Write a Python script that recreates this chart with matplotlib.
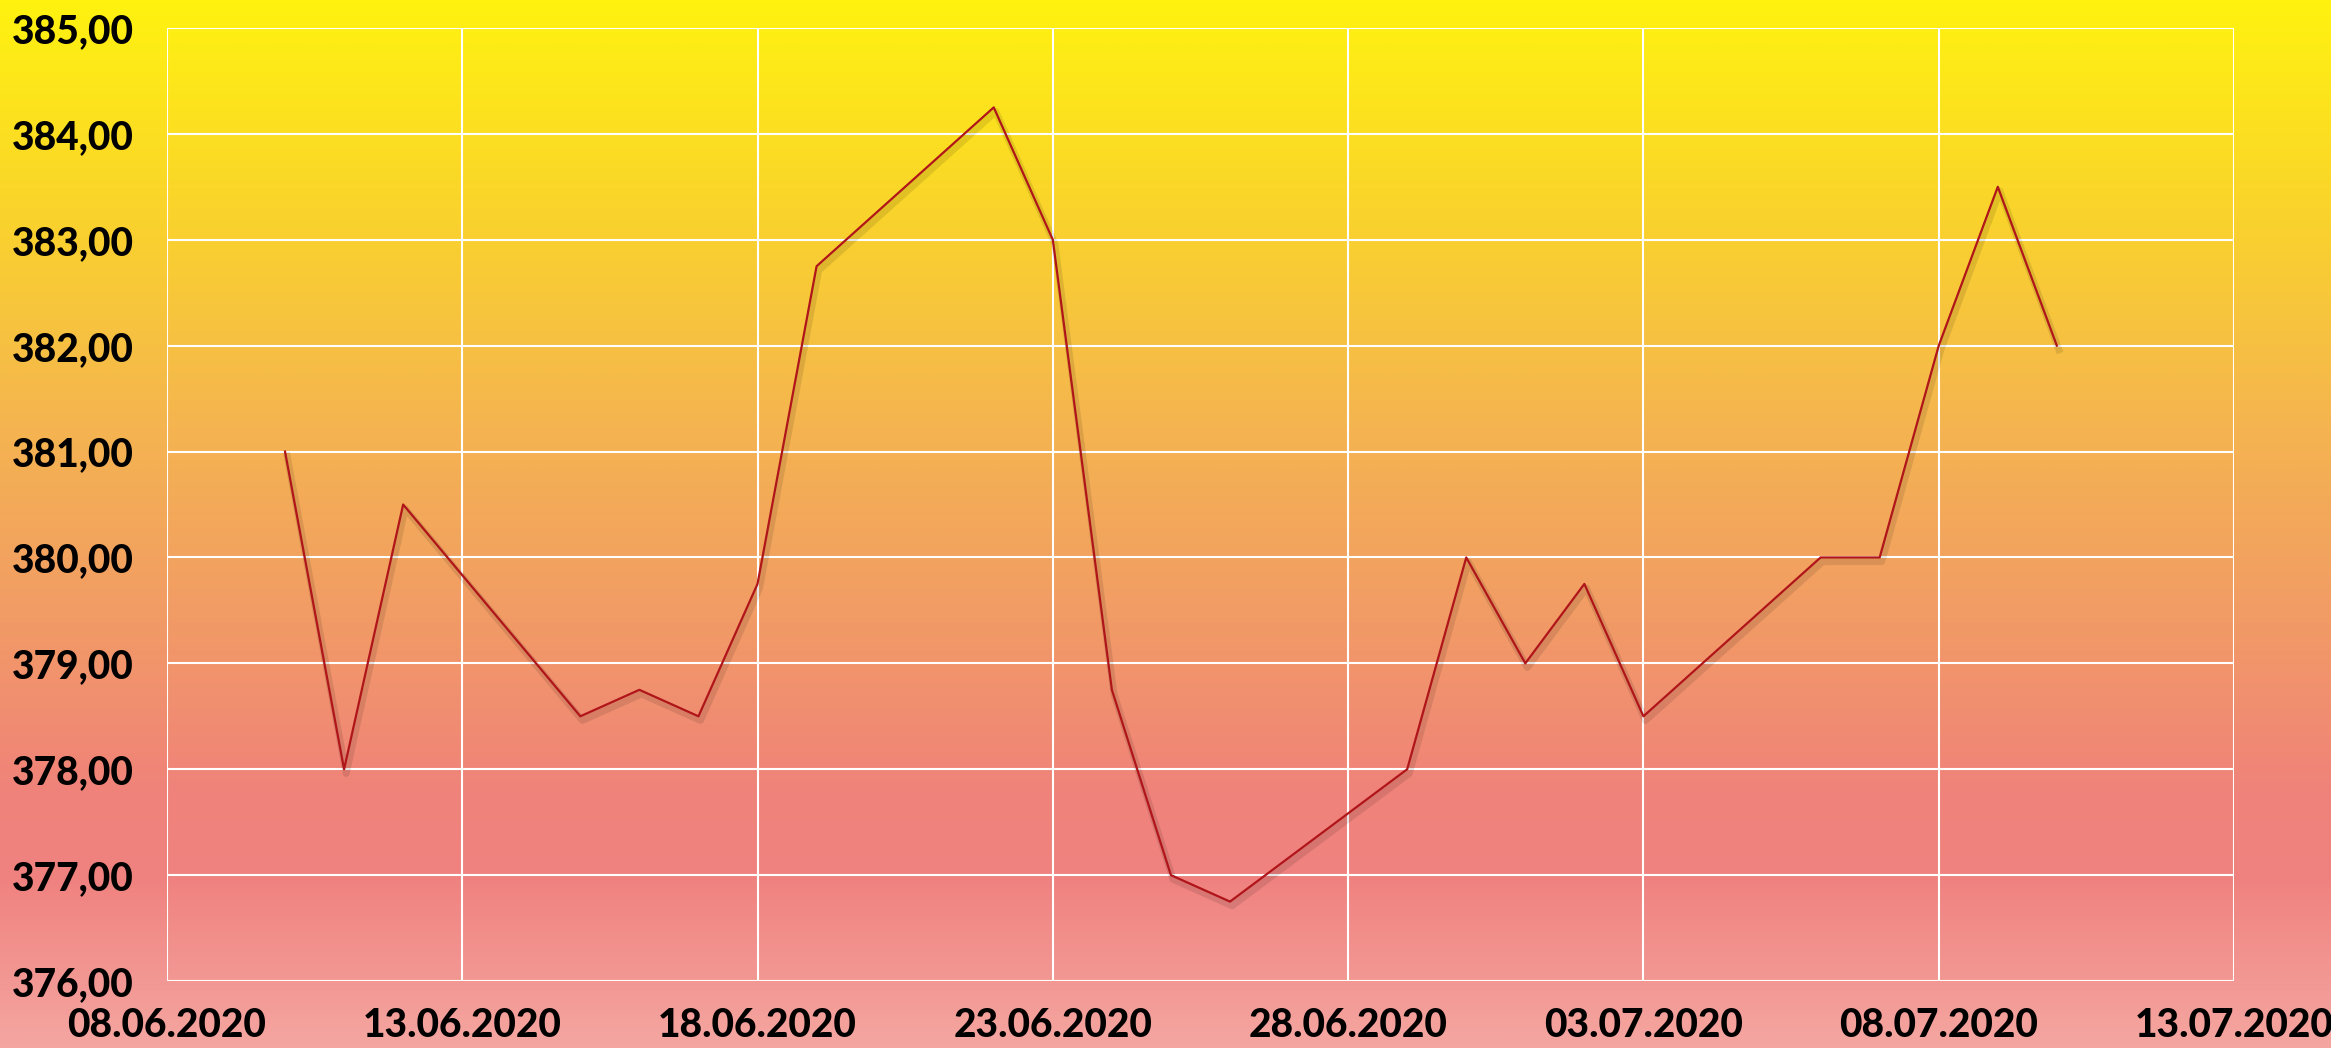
import datetime as dt
import numpy as np
import matplotlib
matplotlib.use("Agg")
import matplotlib.pyplot as plt
import matplotlib.dates as mdates
import matplotlib.patheffects as pe
from matplotlib.colors import LinearSegmentedColormap
from matplotlib.ticker import FuncFormatter

# data
dates = ["10.06.2020", "11.06.2020", "12.06.2020", "15.06.2020", "16.06.2020",
         "17.06.2020", "18.06.2020", "19.06.2020", "22.06.2020", "23.06.2020",
         "24.06.2020", "25.06.2020", "26.06.2020", "29.06.2020", "30.06.2020",
         "01.07.2020", "02.07.2020", "03.07.2020", "06.07.2020", "07.07.2020",
         "08.07.2020", "09.07.2020", "10.07.2020"]
values = [381.00, 378.00, 380.50, 378.50, 378.75,
          378.50, 379.75, 382.75, 384.25, 383.00,
          378.75, 377.00, 376.75, 378.00, 380.00,
          379.00, 379.75, 378.50, 380.00, 380.00,
          382.00, 383.50, 382.00]
x_ticks = ["08.06.2020", "13.06.2020", "18.06.2020", "23.06.2020",
           "28.06.2020", "03.07.2020", "08.07.2020", "13.07.2020"]
y_ticks = [376, 377, 378, 379, 380, 381, 382, 383, 384, 385]

def to_num(s):
    return mdates.date2num(dt.datetime.strptime(s, "%d.%m.%Y"))

xs = [to_num(d) for d in dates]
xt = [to_num(d) for d in x_ticks]

fig = plt.figure(figsize=(23.31, 10.48), dpi=100)

# gradient background
bg = fig.add_axes([0, 0, 1, 1], zorder=0)
stops = [(0.0, (1.0, 0.95, 0.06)),
         (0.2, (0.98, 0.83, 0.17)),
         (0.4, (0.96, 0.71, 0.31)),
         (0.55, (0.95, 0.63, 0.38)),
         (0.76, (0.94, 0.51, 0.48)),
         (0.84, (0.94, 0.51, 0.50)),
         (1.0, (0.96, 0.65, 0.63))]
cmap = LinearSegmentedColormap.from_list("bg", stops)
grad = np.linspace(0, 1, 512).reshape(-1, 1)
bg.imshow(grad, cmap=cmap, aspect="auto", extent=[0, 1, 1, 0])
bg.set_axis_off()

ax = fig.add_axes([0.0716, 0.0639, 0.8868, 0.9094], zorder=1)
ax.patch.set_alpha(0)
ax.plot(xs, values, color="#b0151a", lw=1.6, zorder=3,
        path_effects=[pe.SimpleLineShadow(offset=(1.5, -3), alpha=0.1, linewidth=5),
                      pe.Normal()])

ax.set_xlim(xt[0], xt[-1])
ax.set_ylim(376, 385)
ax.set_xticks(xt)
ax.set_xticklabels(x_ticks)
ax.set_yticks(y_ticks)
ax.yaxis.set_major_formatter(FuncFormatter(lambda v, p: f"{v:.2f}".replace(".", ",")))
ax.grid(True, color="white", lw=1.5)
for s in ax.spines.values():
    s.set_visible(False)
ax.tick_params(length=0, labelsize=28, pad=24)
for lab in ax.get_xticklabels() + ax.get_yticklabels():
    lab.set_fontfamily("Lato")
    lab.set_fontweight("black")
ax.tick_params(axis="x", pad=19)

fig.savefig("out.png", dpi=100)
